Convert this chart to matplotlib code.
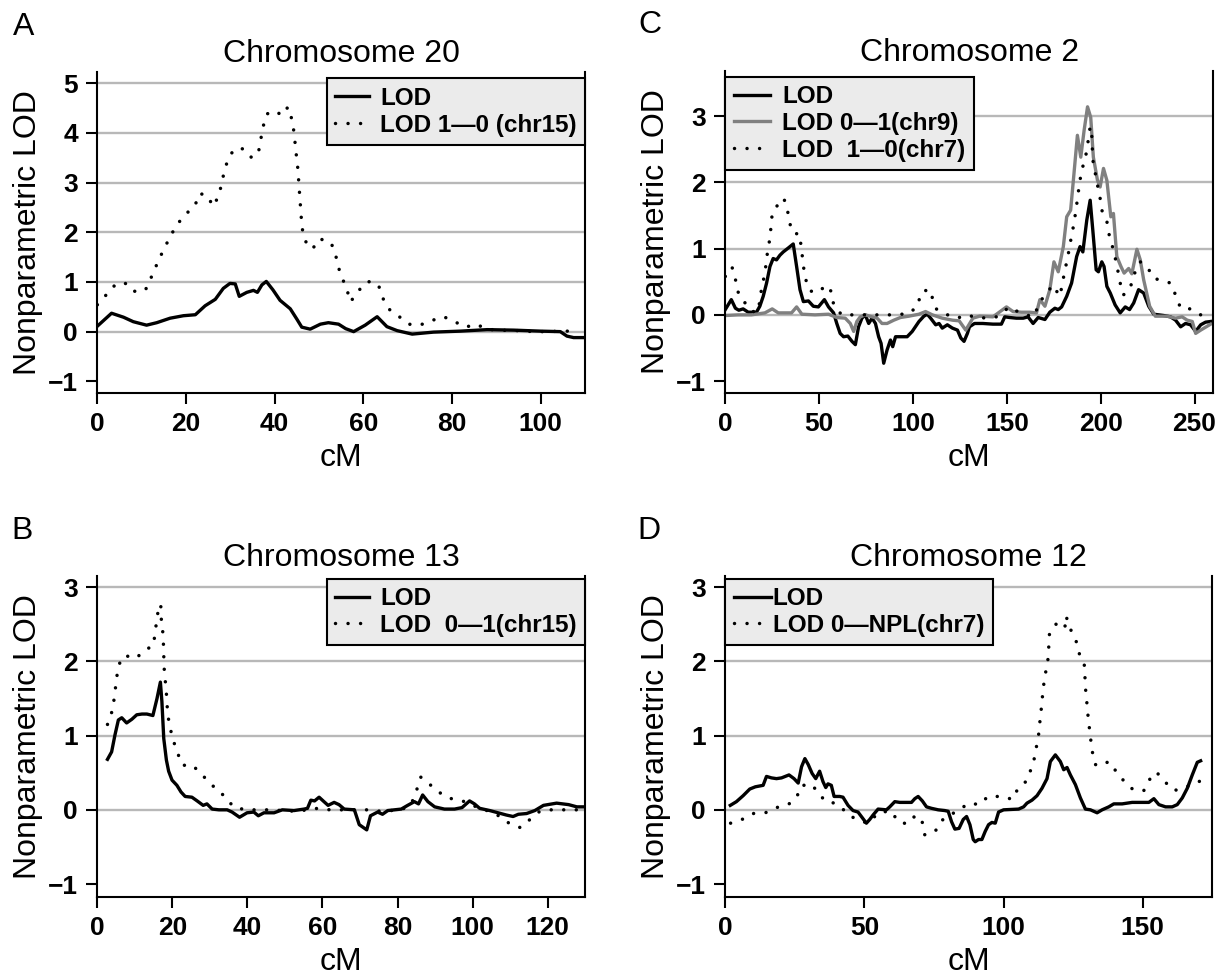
import matplotlib
matplotlib.use("Agg")
import matplotlib.pyplot as plt

plt.rcParams["font.family"] = ["Liberation Sans", "DejaVu Sans"]

# ---------------- data ----------------
# A: chromosome 20
a_lod_cm = [0, 3.2, 5.9, 8.1, 11.1, 13.4, 16.4, 19.4, 22.1, 24.3, 26.6, 28.4, 29.9, 31.1, 32.0,
            33.7, 35.2, 36.1, 37.1, 38.1, 39.6, 41.2, 43.5, 45.0, 46.1, 48.0, 50.3, 52.1, 54.4,
            56.0, 57.8, 60.4, 63.1, 65.3, 67.6, 71.0, 75.8, 81.9, 87.9, 93.9, 99.9, 104.4, 105.9,
            107.4, 110.0]
a_lod = [0.11, 0.37, 0.29, 0.20, 0.13, 0.18, 0.27, 0.32, 0.34, 0.52, 0.65, 0.87, 0.97, 0.96, 0.71,
         0.79, 0.83, 0.79, 0.94, 1.01, 0.84, 0.63, 0.46, 0.25, 0.09, 0.05, 0.15, 0.18, 0.15,
         0.06, 0.0, 0.13, 0.30, 0.10, 0.02, -0.05, -0.01, 0.01, 0.04, 0.03, 0.01, 0.0, -0.09,
         -0.12, -0.12]
a_chr15_cm = [0, 1.9, 3.8, 6.1, 8.1, 10.8, 11.9, 13.0, 14.2, 15.4, 16.7, 18.2, 20.0, 22.0, 23.0,
              24.8, 26.1, 27.3, 28.0, 28.6, 29.4, 30.8, 33.0, 34.9, 36.4, 36.9, 37.4, 38.2, 40.3,
              41.5, 43.0, 43.8, 44.3, 44.6, 44.9, 45.2, 45.4, 45.6, 45.8, 46.0, 46.3, 47.1, 48.5,
              50.1, 52.7, 53.7, 54.3, 55.2, 56.3, 57.0, 58.4, 59.9, 61.7, 63.5, 64.4, 65.8, 68.1,
              70.2, 72.7, 75.3, 78.1, 80.6, 83.0, 85.5, 87.7, 90.2, 94.7, 98.5, 101.9, 104.5, 107.5]
a_chr15 = [0.54, 0.73, 0.92, 0.99, 0.81, 0.83, 1.04, 1.27, 1.51, 1.73, 1.96, 2.18, 2.37, 2.53, 2.78,
           2.74, 2.52, 2.72, 2.96, 3.22, 3.45, 3.67, 3.68, 3.49, 3.64, 3.89, 4.13, 4.38, 4.44,
           4.35, 4.52, 4.29, 4.04, 3.79, 3.53, 3.29, 3.04, 2.78, 2.53, 2.28, 2.02, 1.79, 1.66,
           1.87, 1.79, 1.56, 1.31, 1.08, 0.85, 0.60, 0.74, 0.95, 1.02, 0.91, 0.67, 0.45, 0.30,
           0.15, 0.13, 0.22, 0.30, 0.20, 0.09, 0.15, 0.05, 0.03, 0.02, 0.0, 0.0, 0.01, 0.01]

# C: chromosome 2
c_lod_cm = [0, 3.2, 5.4, 7.2, 9.5, 12.2, 16.6, 18.4, 20.2, 22.0, 23.8, 25.5, 27.3, 29.1, 30.9,
            33.6, 36.2, 38.0, 39.8, 41.6, 44.3, 46.9, 49.6, 52.8, 55.0, 57.7, 59.4, 61.2, 63.0,
            65.3, 67.5, 69.3, 71.0, 72.8, 74.6, 76.4, 78.2, 80.0, 81.7, 83.0, 84.4, 86.2, 88.0,
            89.2, 90.7, 93.3, 96.9, 99.6, 103.2, 105.8, 107.6, 109.4, 112.1, 113.9, 115.6, 118.3,
            121.0, 123.7, 125.5, 127.2, 129.0, 130.1, 132.8, 137.2, 142.6, 147.1, 148.9, 151.5,
            155.1, 158.7, 161.3, 164.0, 166.7, 170.3, 172.9, 175.6, 177.4, 179.2, 181.9, 184.5,
            187.2, 189.0, 190.5, 192.6, 194.4, 195.8, 197.6, 198.8, 200.6, 201.8, 203.3, 205.1,
            207.7, 210.4, 213.1, 215.4, 217.6, 220.2, 222.9, 225.6, 228.3, 233.6, 237.2, 239.9,
            242.6, 245.2, 247.9, 250.6, 253.3, 255.9, 258.6]
c_lod = [0.08, 0.23, 0.10, 0.07, 0.09, 0.04, 0.04, 0.13, 0.28, 0.48, 0.73, 0.85, 0.83, 0.90, 0.95,
         1.01, 1.07, 0.73, 0.38, 0.20, 0.21, 0.13, 0.12, 0.23, 0.12, 0.03, -0.13, -0.28, -0.33,
         -0.32, -0.40, -0.45, -0.18, -0.05, 0.0, -0.13, -0.05, -0.13, -0.33, -0.43, -0.73, -0.53,
         -0.38, -0.48, -0.33, -0.33, -0.33, -0.25, -0.10, -0.02, 0.01, -0.05, -0.15, -0.13, -0.20,
         -0.15, -0.20, -0.23, -0.35, -0.40, -0.28, -0.18, -0.13, -0.13, -0.14, -0.14, -0.03,
         -0.04, -0.05, -0.05, -0.03, -0.13, -0.04, -0.07, 0.04, 0.10, 0.08, 0.12, 0.28, 0.48,
         0.88, 1.03, 0.95, 1.43, 1.73, 1.28, 0.68, 0.65, 0.80, 0.73, 0.43, 0.33, 0.15, 0.03, 0.12,
         0.08, 0.18, 0.38, 0.33, 0.13, 0.01, -0.01, -0.03, -0.08, -0.18, -0.13, -0.15, -0.25,
         -0.15, -0.11, -0.10]
c_chr9_cm = [0, 6.8, 13.9, 21.1, 25.0, 28.2, 35.3, 38.0, 40.8, 47.8, 55.0, 59.4, 63.9, 66.6, 68.4,
             70.1, 71.9, 74.6, 78.2, 80.9, 83.5, 86.2, 89.8, 93.3, 97.8, 103.2, 106.7, 110.3,
             115.6, 121.0, 124.6, 128.1, 131.9, 135.5, 142.6, 149.8, 153.3, 157.8, 162.2, 165.8,
             167.6, 170.3, 172.9, 175.1, 177.4, 180.1, 181.9, 184.0, 185.8, 187.6, 189.4, 191.2,
             193.0, 194.7, 196.1, 198.3, 199.7, 201.5, 203.3, 205.4, 206.8, 208.6, 210.8, 212.5,
             214.9, 216.6, 219.3, 221.1, 222.9, 226.1, 229.1, 235.4, 239.9, 243.4, 246.1, 248.8,
             250.6, 253.3, 258.6]
c_chr9 = [-0.01, 0.0, 0.0, 0.03, 0.09, 0.03, 0.03, 0.12, 0.01, 0.0, 0.01, -0.04, -0.05, -0.13,
          -0.25, -0.10, -0.03, 0.0, -0.03, -0.05, -0.13, -0.13, -0.08, -0.04, -0.02, 0.01, 0.05,
          0.0, -0.05, -0.08, -0.09, -0.23, -0.05, -0.02, -0.03, 0.12, 0.05, 0.04, 0.04, 0.03,
          0.23, 0.13, 0.38, 0.80, 0.65, 1.03, 1.48, 1.58, 2.14, 2.71, 2.38, 2.79, 3.14, 2.98,
          2.38, 2.03, 1.93, 2.21, 2.03, 1.48, 1.53, 0.88, 0.73, 0.63, 0.70, 0.62, 0.99, 0.83,
          0.53, 0.13, -0.02, -0.02, -0.05, -0.03, -0.08, -0.10, -0.28, -0.23, -0.14]
c_chr7_cm = [0, 1.1, 3.6, 5.4, 6.3, 9.0, 11.3, 14.5, 17.5, 19.3, 21.1, 22.5, 23.8, 25.0, 28.6,
             31.2, 33.2, 34.3, 36.8, 39.3, 40.3, 41.9, 42.9, 45.2, 49.6, 53.7, 56.8, 57.7, 62.0,
             70.0, 80.0, 90.0, 98.0, 102.6, 104.1, 108.5, 110.3, 112.4, 117.4, 123.7, 128.3,
             135.5, 144.4, 151.5, 156.9, 164.0, 168.5, 171.1, 174.4, 178.3, 180.1, 181.9, 183.3,
             184.5, 185.8, 187.2, 188.6, 189.9, 191.7, 193.0, 194.4, 195.3, 195.8, 197.1, 198.3,
             199.7, 200.6, 203.3, 204.7, 206.8, 208.6, 210.4, 212.1, 215.7, 217.6, 221.1, 224.7,
             228.3, 232.7, 237.2, 239.9, 242.6, 247.9, 253.3, 258.6]
c_chr7 = [0.58, 0.60, 0.72, 0.54, 0.37, 0.24, 0.15, 0.05, 0.05, 0.39, 0.63, 0.95, 1.16, 1.53, 1.69,
          1.76, 1.57, 1.38, 1.22, 1.23, 1.06, 0.68, 0.53, 0.36, 0.34, 0.45, 0.34, 0.15, 0.0, 0.0,
          0.0, 0.0, 0.02, 0.14, 0.33, 0.39, 0.26, 0.09, 0.01, -0.05, 0.0, -0.05, -0.03, 0.12, 0.03,
          -0.03, 0.23, 0.32, 0.45, 0.28, 0.55, 0.80, 1.0, 1.20, 1.38, 1.66, 1.96, 2.19, 2.34,
          2.56, 2.84, 2.69, 2.34, 2.14, 1.96, 1.76, 1.58, 1.41, 1.18, 0.98, 0.75, 0.48, 0.30,
          0.40, 0.60, 0.80, 0.73, 0.55, 0.52, 0.48, 0.30, 0.10, 0.09, 0.0, 0.0]

# B: chromosome 13
b_lod_cm = [2.7, 3.8, 4.7, 5.6, 6.5, 7.8, 9.2, 10.5, 11.9, 13.2, 14.8, 15.9, 16.8, 17.2, 17.7,
            18.4, 19.0, 19.9, 21.2, 22.3, 23.4, 25.2, 26.6, 28.2, 29.2, 30.6, 32.4, 34.6, 35.9,
            37.9, 39.9, 41.7, 42.9, 44.4, 47.1, 49.3, 52.4, 55.1, 56.0, 56.9, 57.9, 59.1, 60.4,
            61.5, 63.1, 64.4, 65.8, 68.5, 69.8, 71.8, 72.8, 74.7, 76.0, 77.4, 79.2, 81.0, 82.7,
            84.5, 85.6, 86.7, 88.1, 89.9, 92.5, 95.2, 97.2, 99.2, 100.5, 101.9, 104.6, 106.8,
            109.0, 110.8, 112.2, 114.4, 116.6, 118.9, 122.4, 125.6, 127.8, 130.0]
b_lod = [0.68, 0.78, 1.01, 1.21, 1.24, 1.17, 1.22, 1.28, 1.29, 1.29, 1.27, 1.50, 1.72, 1.46, 0.96,
         0.67, 0.52, 0.40, 0.33, 0.24, 0.18, 0.17, 0.12, 0.06, 0.08, 0.01, 0.0, 0.0, -0.03,
         -0.10, -0.04, -0.03, -0.08, -0.04, -0.04, 0.0, -0.01, 0.01, 0.02, 0.13, 0.12, 0.17,
         0.11, 0.06, 0.10, 0.07, 0.01, 0.0, -0.20, -0.27, -0.08, -0.03, -0.06, -0.01, 0.0, 0.01,
         0.06, 0.11, 0.08, 0.20, 0.11, 0.04, 0.01, 0.01, 0.03, 0.12, 0.08, 0.02, -0.01, -0.04,
         -0.07, -0.09, -0.06, -0.05, -0.01, 0.06, 0.09, 0.07, 0.04, 0.04]
b_chr15_cm = [2.7, 3.8, 4.4, 4.8, 5.2, 5.9, 7.2, 10.3, 12.6, 14.9, 15.4, 15.8, 16.3, 16.9, 17.0,
              17.4, 17.6, 17.7, 17.8, 18.1, 18.4, 18.6, 18.9, 19.5, 20.4, 21.5, 22.7, 25.4, 27.5,
              29.7, 32.0, 34.3, 36.2, 39.5, 46.0, 52.9, 56.0, 58.7, 62.0, 71.8, 75.6, 81.0, 83.6,
              85.0, 86.2, 88.2, 90.7, 93.4, 96.5, 99.2, 101.6, 104.6, 107.7, 110.2, 112.8, 115.3,
              117.9, 121.0, 127.7]
b_chr15 = [1.15, 1.31, 1.47, 1.63, 1.80, 1.97, 2.08, 2.04, 2.15, 2.21, 2.38, 2.55, 2.71, 2.77,
           2.59, 2.42, 2.25, 2.08, 1.91, 1.74, 1.57, 1.40, 1.24, 1.08, 0.91, 0.75, 0.60, 0.60,
           0.49, 0.38, 0.26, 0.17, 0.04, 0.0, 0.0, -0.02, 0.0, 0.02, 0.0, 0.0, -0.02, 0.0, 0.07,
           0.25, 0.44, 0.36, 0.25, 0.16, 0.13, 0.09, 0.02, -0.02, -0.10, -0.20, -0.24, -0.13,
           -0.02, 0.0, 0.0]

# D: chromosome 12
d_lod_cm = [1.8, 4.0, 6.4, 8.8, 10.8, 13.6, 14.8, 16.6, 18.4, 20.2, 22.9, 24.7, 26.2, 27.4, 28.6,
            29.8, 31.2, 32.5, 33.9, 35.1, 36.1, 36.9, 38.1, 39.1, 41.1, 42.3, 44.1, 45.9, 47.7,
            49.3, 50.7, 51.9, 53.1, 54.9, 57.9, 59.1, 60.9, 62.7, 66.9, 68.1, 69.3, 70.8, 72.3,
            74.1, 76.5, 78.9, 80.1, 81.3, 82.5, 84.0, 85.5, 86.7, 87.9, 89.1, 89.8, 91.0, 92.2,
            93.4, 94.6, 95.8, 97.0, 98.2, 100.0, 105.4, 107.2, 108.4, 110.2, 112.0, 113.8, 115.6,
            116.8, 118.6, 120.4, 121.6, 122.8, 124.0, 125.8, 127.6, 129.4, 131.2, 133.6, 135.4,
            137.8, 139.6, 142.6, 146.2, 149.8, 152.2, 154.0, 155.8, 158.2, 160.6, 162.4, 164.2,
            166.0, 167.8, 169.6, 170.8]
d_lod = [0.06, 0.11, 0.19, 0.28, 0.31, 0.33, 0.45, 0.43, 0.42, 0.43, 0.47, 0.42, 0.36, 0.58, 0.69,
         0.61, 0.49, 0.42, 0.52, 0.38, 0.30, 0.35, 0.33, 0.18, 0.18, 0.17, 0.06, -0.01, -0.03,
         -0.11, -0.18, -0.13, -0.07, 0.01, 0.0, 0.04, 0.11, 0.10, 0.10, 0.15, 0.18, 0.12, 0.04,
         0.02, 0.0, -0.01, -0.02, -0.16, -0.26, -0.25, -0.13, -0.09, -0.20, -0.40, -0.43, -0.40,
         -0.40, -0.29, -0.20, -0.17, -0.18, -0.03, 0.0, 0.01, 0.04, 0.09, 0.13, 0.19, 0.29, 0.42,
         0.65, 0.74, 0.65, 0.54, 0.57, 0.47, 0.34, 0.16, 0.01, 0.0, -0.04, 0.0, 0.04, 0.08, 0.08,
         0.10, 0.10, 0.10, 0.15, 0.07, 0.04, 0.04, 0.07, 0.16, 0.29, 0.47, 0.64, 0.66]
d_chr7_cm = [1.9, 6.0, 10.0, 14.4, 18.4, 22.6, 25.7, 27.1, 30.4, 33.3, 35.5, 36.9, 41.5, 44.5,
             47.7, 51.0, 55.5, 59.7, 62.1, 65.4, 68.5, 70.8, 71.7, 72.9, 75.9, 77.9, 84.3, 87.7,
             91.3, 94.4, 96.8, 99.6, 103.2, 105.2, 108.0, 109.8, 111.1, 111.9, 112.7, 113.1,
             113.6, 114.0, 114.5, 115.2, 116.0, 116.5, 118.8, 122.0, 122.4, 123.0, 124.3, 126.3,
             127.3, 129.0, 129.5, 129.9, 130.3, 130.8, 131.3, 131.9, 133.0, 134.5, 137.8, 140.4,
             143.4, 146.6, 150.4, 152.5, 154.9, 157.9, 161.2, 164.8, 169.0, 171.1]
d_chr7 = [-0.18, -0.13, -0.05, -0.04, 0.03, 0.07, 0.17, 0.32, 0.35, 0.25, 0.13, 0.13, 0.04, -0.08,
          -0.13, -0.18, -0.03, -0.02, -0.16, -0.19, -0.07, -0.17, -0.34, -0.32, -0.27, -0.14,
          0.01, 0.09, 0.07, 0.18, 0.18, 0.18, 0.14, 0.29, 0.38, 0.54, 0.70, 0.87, 1.04, 1.21,
          1.38, 1.54, 1.71, 1.87, 2.04, 2.38, 2.50, 2.44, 2.61, 2.55, 2.41, 2.25, 2.09, 1.95,
          1.61, 1.45, 1.28, 1.11, 0.95, 0.78, 0.61, 0.59, 0.65, 0.52, 0.38, 0.27, 0.26, 0.41,
          0.51, 0.38, 0.26, 0.29, 0.37, 0.39]

# ---------------- styling ----------------
SOLID = dict(color="black", lw=2.4, solid_joinstyle="round")
GRAY = dict(color="#808080", lw=2.4, solid_joinstyle="round")
DOTS = dict(color="black", lw=2.5, linestyle=(0, (0.01, 3.6)), dash_capstyle="round")


def setup(ax, xlim, xticks, ylim, yticks, title):
    ax.set_xlim(*xlim)
    ax.set_ylim(*ylim)
    ax.set_xticks(xticks)
    ax.set_yticks(yticks)
    for y in yticks:
        if y >= 0:
            ax.axhline(y, color="#b8b8b8", lw=1.7, zorder=0)
    ax.spines["top"].set_visible(False)
    for s in ("left", "bottom", "right"):
        ax.spines[s].set_linewidth(1.5)
    ax.tick_params(direction="out", length=8, width=1.5, labelsize=19, pad=6)
    for lab in ax.get_xticklabels() + ax.get_yticklabels():
        lab.set_fontweight("bold")
    ax.set_title(title, fontsize=23, pad=7)
    ax.set_xlabel("cM", fontsize=23, labelpad=5)
    ax.set_ylabel("Nonparametric LOD", fontsize=23)
    ax.yaxis.set_label_coords(-0.112, 0.5)


def legend(ax, loc, anchor, textpad=0.5, hlen=1.5):
    leg = ax.legend(loc=loc, bbox_to_anchor=anchor, borderaxespad=0, fancybox=False,
                    framealpha=1, facecolor="#ebebeb", edgecolor="black",
                    prop={"weight": "bold", "size": 17.5}, handlelength=hlen,
                    handletextpad=textpad, labelspacing=0.15, borderpad=0.35)
    leg.get_frame().set_linewidth(1.5)
    leg.set_zorder(5)


fig = plt.figure(figsize=(12.2, 9.77), dpi=100)

ax_a = fig.add_axes([0.0798, 0.598, 0.3998, 0.3286])
ax_c = fig.add_axes([0.5945, 0.5977, 0.4, 0.3296])
ax_b = fig.add_axes([0.0798, 0.0822, 0.3998, 0.3283])
ax_d = fig.add_axes([0.5945, 0.0822, 0.3992, 0.3283])

# A
ax_a.plot(a_lod_cm, a_lod, label="LOD", **SOLID)
ax_a.plot(a_chr15_cm, a_chr15, label="LOD 1\u20140 (chr15)", **DOTS)
setup(ax_a, (0, 110), range(0, 101, 20), (-1.23, 5.23), range(-1, 6), "Chromosome 20")
legend(ax_a, "upper right", (1.0, 0.979), textpad=0.45, hlen=1.4)

# C
ax_c.plot(c_lod_cm, c_lod, label="LOD", **SOLID)
ax_c.plot(c_chr9_cm, c_chr9, label="LOD 0\u20141(chr9)", **GRAY)
ax_c.plot(c_chr7_cm, c_chr7, label="LOD  1\u20140(chr7)", **DOTS)
setup(ax_c, (0, 260), range(0, 251, 50), (-1.18, 3.68), range(-1, 4), "Chromosome 2")
legend(ax_c, "upper left", (0.0, 0.982))

# B
ax_b.plot(b_lod_cm, b_lod, label="LOD", **SOLID)
ax_b.plot(b_chr15_cm, b_chr15, label="LOD  0\u20141(chr15)", **DOTS)
setup(ax_b, (0, 130), range(0, 121, 20), (-1.17, 3.15), range(-1, 4), "Chromosome 13")
legend(ax_b, "upper right", (1.0, 0.991), textpad=0.45, hlen=1.4)

# D
ax_d.plot(d_lod_cm, d_lod, label="LOD", **SOLID)
ax_d.plot(d_chr7_cm, d_chr7, label="LOD 0\u2014NPL(chr7)", **DOTS)
setup(ax_d, (0, 175), range(0, 151, 50), (-1.17, 3.15), range(-1, 4), "Chromosome 12")
legend(ax_d, "upper left", (0.0, 0.991), textpad=0.05, hlen=1.55)

# panel letters
for letter, x, y in (("A", 24, 27), ("C", 650, 25), ("B", 22, 531), ("D", 649, 531)):
    fig.text(x / 1220, 1 - y / 977, letter, fontsize=23, ha="center", va="center")

fig.savefig("out.png", dpi=100)
